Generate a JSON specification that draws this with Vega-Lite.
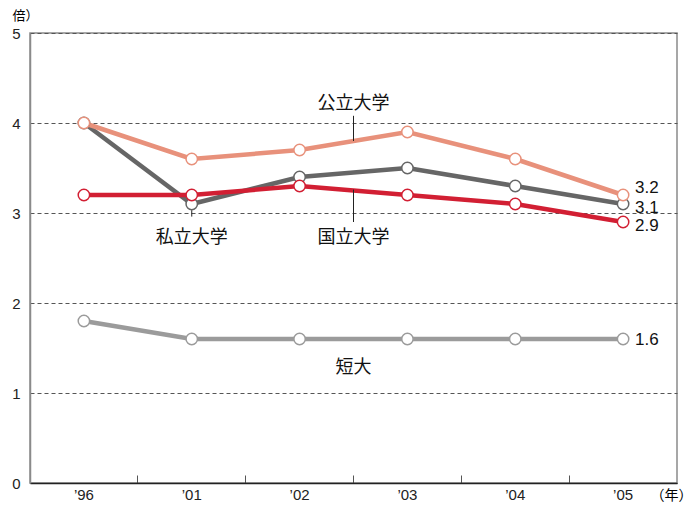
{
  "$schema": "https://vega.github.io/schema/vega-lite/v6.json",
  "width": 647,
  "height": 450,
  "autosize": {"type": "none"},
  "padding": {"left": 30, "top": 33, "right": 16, "bottom": 22},
  "background": "white",
  "config": {
    "view": {"stroke": "#8a8a8a", "strokeWidth": 1.5},
    "font": "Liberation Sans"
  },
  "datasets": {
    "series": [
      {"year": "’96", "type": "私立大学", "value": 4.0},
      {"year": "’01", "type": "私立大学", "value": 3.1},
      {"year": "’02", "type": "私立大学", "value": 3.4},
      {"year": "’03", "type": "私立大学", "value": 3.5},
      {"year": "’04", "type": "私立大学", "value": 3.3},
      {"year": "’05", "type": "私立大学", "value": 3.1},
      {"year": "’96", "type": "国立大学", "value": 3.2},
      {"year": "’01", "type": "国立大学", "value": 3.2},
      {"year": "’02", "type": "国立大学", "value": 3.3},
      {"year": "’03", "type": "国立大学", "value": 3.2},
      {"year": "’04", "type": "国立大学", "value": 3.1},
      {"year": "’05", "type": "国立大学", "value": 2.9},
      {"year": "’96", "type": "公立大学", "value": 4.0},
      {"year": "’01", "type": "公立大学", "value": 3.6},
      {"year": "’02", "type": "公立大学", "value": 3.7},
      {"year": "’03", "type": "公立大学", "value": 3.9},
      {"year": "’04", "type": "公立大学", "value": 3.6},
      {"year": "’05", "type": "公立大学", "value": 3.2},
      {"year": "’96", "type": "短大", "value": 1.8},
      {"year": "’01", "type": "短大", "value": 1.6},
      {"year": "’02", "type": "短大", "value": 1.6},
      {"year": "’03", "type": "短大", "value": 1.6},
      {"year": "’04", "type": "短大", "value": 1.6},
      {"year": "’05", "type": "短大", "value": 1.6}
    ],
    "endLabels": [
      {"year": "’05", "value": 3.2, "label": "3.2", "shift": "up"},
      {"year": "’05", "value": 3.1, "label": "3.1", "shift": "down"},
      {"year": "’05", "value": 2.9, "label": "2.9", "shift": "down"},
      {"year": "’05", "value": 1.6, "label": "1.6", "shift": "none"}
    ],
    "names": [
      {"year": "’03", "value": 4.21, "label": "公立大学", "band": 0},
      {"year": "’03", "value": 2.72, "label": "国立大学", "band": 0},
      {"year": "’01", "value": 2.72, "label": "私立大学", "band": 0.5},
      {"year": "’03", "value": 1.28, "label": "短大", "band": 0}
    ],
    "leaders": [
      {"year": "’03", "y1": 4.08, "y2": 3.8},
      {"year": "’03", "y1": 3.26, "y2": 2.9}
    ]
  },
  "layer": [
    {
      "data": {"name": "series"},
      "mark": {"type": "line", "strokeWidth": 4.5},
      "encoding": {
        "x": {
          "field": "year", "type": "nominal", "sort": null,
          "scale": {"type": "band", "paddingInner": 0, "paddingOuter": 0},
          "axis": {
            "title": "（年）", "titleFont": "Noto Sans CJK JP", "titleFontSize": 14, "titleFontWeight": "normal",
            "titleX": 662, "titleY": 12, "titleAlign": "right", "titleBaseline": "middle",
            "labelAngle": 0, "labelFontSize": 15, "labelColor": "#222", "labelPadding": 19, "labelBaseline": "middle",
            "domainColor": "#222", "domainWidth": 1.5,
            "bandPosition": 0, "tickSize": -8, "tickColor": "#555", "tickWidth": 1
          }
        },
        "y": {
          "field": "value", "type": "quantitative",
          "scale": {"domain": [0, 5]},
          "axis": {
            "values": [0, 1, 2, 3, 4, 5], "format": "d", "title": "倍）", "titleFont": "Noto Sans CJK JP", "titleFontSize": 13, "titleFontWeight": "normal",
            "titleAngle": 0, "titleX": -18, "titleY": -18, "titleAlign": "left", "titleBaseline": "middle",
            "labelFontSize": 15, "labelColor": "#222", "labelPadding": 10, "tickSize": 0,
            "domainColor": "#8a8a8a", "domainWidth": 1.5,
            "grid": true, "gridDash": [4, 3], "gridColor": "#555", "gridWidth": 1
          }
        },
        "color": {
          "field": "type", "type": "nominal",
          "scale": {"domain": ["私立大学", "国立大学", "公立大学", "短大"], "range": ["#666666", "#d21f33", "#e8917b", "#9b9b9b"]},
          "legend": null
        }
      }
    },
    {
      "data": {"name": "series"},
      "mark": {"type": "point", "shape": "circle", "filled": true, "fill": "white", "opacity": 1, "size": 130, "strokeWidth": 1.5},
      "encoding": {
        "x": {"field": "year", "type": "nominal", "sort": null},
        "y": {"field": "value", "type": "quantitative"},
        "stroke": {
          "field": "type", "type": "nominal",
          "scale": {"domain": ["私立大学", "国立大学", "公立大学", "短大"], "range": ["#666666", "#d21f33", "#e8917b", "#9b9b9b"]},
          "legend": null
        }
      }
    },
    {
      "data": {"name": "leaders"},
      "mark": {"type": "rule", "color": "#222", "strokeWidth": 1},
      "encoding": {
        "x": {"field": "year", "type": "nominal", "sort": null, "bandPosition": 0},
        "y": {"field": "y1", "type": "quantitative"},
        "y2": {"field": "y2"}
      }
    },
    {
      "data": {"values": [{"year": "’01", "y1": 3.03, "y2": 2.96}]},
      "mark": {"type": "rule", "color": "#222", "strokeWidth": 1},
      "encoding": {
        "x": {"field": "year", "type": "nominal", "sort": null, "bandPosition": 0.5},
        "y": {"field": "y1", "type": "quantitative"},
        "y2": {"field": "y2"}
      }
    },
    {
      "data": {"name": "names"},
      "transform": [{"filter": "datum.band == 0"}],
      "mark": {"type": "text", "font": "Noto Sans CJK JP", "fontSize": 18, "color": "#111", "align": "center", "baseline": "middle"},
      "encoding": {
        "x": {"field": "year", "type": "nominal", "sort": null, "bandPosition": 0},
        "y": {"field": "value", "type": "quantitative"},
        "text": {"field": "label"}
      }
    },
    {
      "data": {"name": "names"},
      "transform": [{"filter": "datum.band == 0.5"}],
      "mark": {"type": "text", "font": "Noto Sans CJK JP", "fontSize": 18, "color": "#111", "align": "center", "baseline": "middle"},
      "encoding": {
        "x": {"field": "year", "type": "nominal", "sort": null, "bandPosition": 0.5},
        "y": {"field": "value", "type": "quantitative"},
        "text": {"field": "label"}
      }
    },
    {
      "data": {"name": "endLabels"},
      "transform": [{"filter": "datum.shift == 'up'"}],
      "mark": {"type": "text", "fontSize": 17, "color": "#111", "align": "left", "baseline": "middle", "dx": 12, "dy": -7},
      "encoding": {
        "x": {"field": "year", "type": "nominal", "sort": null},
        "y": {"field": "value", "type": "quantitative"},
        "text": {"field": "label"}
      }
    },
    {
      "data": {"name": "endLabels"},
      "transform": [{"filter": "datum.shift == 'down'"}],
      "mark": {"type": "text", "fontSize": 17, "color": "#111", "align": "left", "baseline": "middle", "dx": 12, "dy": 4},
      "encoding": {
        "x": {"field": "year", "type": "nominal", "sort": null},
        "y": {"field": "value", "type": "quantitative"},
        "text": {"field": "label"}
      }
    },
    {
      "data": {"name": "endLabels"},
      "transform": [{"filter": "datum.shift == 'none'"}],
      "mark": {"type": "text", "fontSize": 17, "color": "#111", "align": "left", "baseline": "middle", "dx": 12, "dy": 1},
      "encoding": {
        "x": {"field": "year", "type": "nominal", "sort": null},
        "y": {"field": "value", "type": "quantitative"},
        "text": {"field": "label"}
      }
    }
  ]
}
